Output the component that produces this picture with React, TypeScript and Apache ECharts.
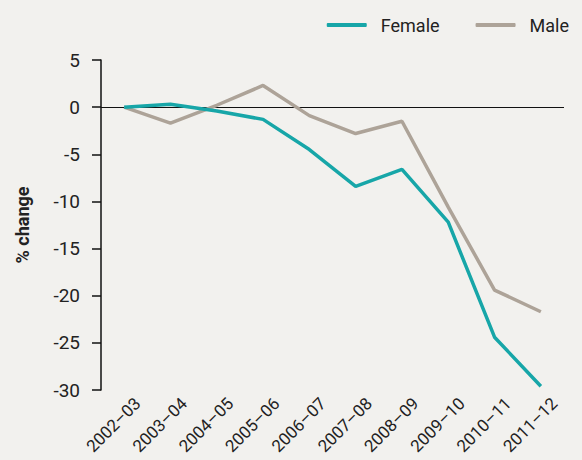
import React, { useEffect, useRef } from "react";
import * as echarts from "echarts";

const categories = ["2002–03", "2003–04", "2004–05", "2005–06", "2006–07", "2007–08", "2008–09", "2009–10", "2010–11", "2011–12"];
const femaleValues = [0, 0.3, -0.4, -1.3, -4.5, -8.4, -6.6, -12.2, -24.4, -29.6];
const maleValues = [0, -1.7, 0.2, 2.3, -0.9, -2.8, -1.5, -10.6, -19.4, -21.7];
const yTicks = { min: -30, max: 5, interval: 5 };

const FONT = "Roboto, 'Noto Sans', sans-serif";
const TEXT = "#222222";

export default function App() {
  const ref = useRef<HTMLDivElement>(null);
  useEffect(() => {
    if (!ref.current) return;
    const chart = echarts.init(ref.current, null, { renderer: "svg" });
    chart.setOption({
      animation: false,
      backgroundColor: "#f2f1ee",
      textStyle: { fontFamily: FONT },
      legend: {
        right: 8,
        top: 11,
        itemWidth: 40,
        itemHeight: 4,
        itemGap: 36,
        icon: "roundRect",
        textStyle: { fontSize: 18, color: TEXT, fontFamily: FONT, padding: [0, 0, 0, 9] },
        data: ["Female", "Male"],
      },
      grid: { left: 101, right: 18, top: 60, bottom: 70, containLabel: false, outerBoundsMode: "none" },
      xAxis: {
        type: "category",
        data: categories,
        boundaryGap: true,
        axisLine: { show: false },
        axisTick: { show: false },
        axisLabel: {
          rotate: 45,
          fontSize: 17,
          color: TEXT,
          margin: 24,
          interval: 0,
          fontFamily: FONT,
          padding: [0, -19, 0, 0],
        },
        splitLine: { show: false },
      },
      yAxis: {
        type: "value",
        min: yTicks.min,
        max: yTicks.max,
        interval: yTicks.interval,
        name: "% change",
        nameLocation: "middle",
        nameGap: 70,
        nameTextStyle: { fontSize: 18, fontWeight: "bold", color: TEXT, fontFamily: FONT },
        axisLine: { show: true, lineStyle: { color: "#111", width: 1.5 } },
        axisTick: { show: true, inside: false, length: 9, lineStyle: { color: "#111", width: 1.5 } },
        axisLabel: { fontSize: 19, color: TEXT, margin: 21, fontFamily: FONT },
        splitLine: { show: false },
      },
      series: [
        {
          name: "Female",
          type: "line",
          data: femaleValues,
          symbol: "none",
          lineStyle: { color: "#17a6a8", width: 3.5 },
          itemStyle: { color: "#17a6a8" },
          z: 3,
          markLine: {
            silent: true,
            symbol: "none",
            label: { show: false },
            lineStyle: { color: "#111", width: 1, type: "solid" },
            data: [{ yAxis: 0 }],
            z: 1,
          },
        },
        {
          name: "Male",
          type: "line",
          data: maleValues,
          symbol: "none",
          lineStyle: { color: "#ada398", width: 3.5 },
          itemStyle: { color: "#ada398" },
          z: 2,
        },
      ],
    });
    return () => chart.dispose();
  }, []);
  return <div ref={ref} style={{ width: 582, height: 460, position: "absolute", left: 0, top: 0 }} />;
}
